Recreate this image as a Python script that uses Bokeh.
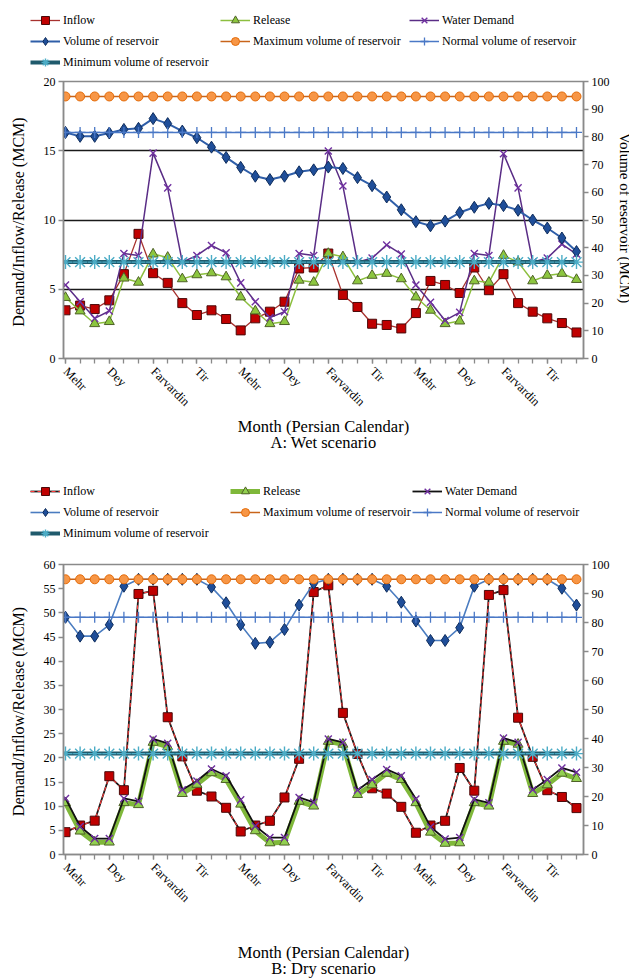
import math
from bokeh.plotting import figure
from bokeh.models import (Range1d, LinearAxis, FixedTicker, Legend, LegendItem,
                          ColumnDataSource)
from bokeh.layouts import column, row
from bokeh.embed import file_html
from bokeh.resources import INLINE

# ---------------- data ----------------
months = list(range(1, 37))
tick_months = [1, 4, 7, 10, 13, 16, 19, 22, 25, 28, 31, 34]
tick_labels = ["Mehr", "Dey", "Farvardin", "Tir",
               "Mehr", "Dey", "Farvardin", "Tir",
               "Mehr", "Dey", "Farvardin", "Tir"]

# A: Wet scenario (MCM)
wet_inflow = [3.48, 3.82, 3.57, 4.2, 6.09, 9.0, 6.16, 5.46, 4.0, 3.14, 3.48, 2.85,
              2.03, 2.9, 3.38, 4.1, 6.5, 6.57, 7.58, 4.59, 3.72, 2.51, 2.42, 2.17,
              3.28, 5.6, 5.31, 4.73, 6.57, 4.93, 6.09, 4.0, 3.38, 2.9, 2.56, 1.88]
wet_release = [4.4, 3.43, 2.51, 2.66, 5.8, 5.5, 7.54, 7.3, 5.75, 6.04, 6.18, 5.89,
               4.44, 3.43, 2.51, 2.66, 5.65, 5.5, 7.58, 7.34, 5.6, 6.0, 6.14, 5.75,
               4.44, 3.48, 2.51, 2.7, 5.6, 5.5, 7.44, 6.96, 5.6, 6.0, 6.14, 5.7]
wet_demand = [5.31, 4.1, 2.9, 3.43, 7.58, 7.44, 14.83, 12.32, 6.96, 7.44, 8.16, 7.63,
              5.46, 4.1, 2.95, 3.38, 7.58, 7.44, 14.98, 12.46, 6.96, 7.25, 8.2, 7.54,
              5.31, 4.06, 2.75, 3.33, 7.58, 7.44, 14.78, 12.32, 6.96, 7.25, 8.26, 7.54]
wet_volume = [81.6, 80.2, 80.2, 81.4, 82.7, 83.1, 86.6, 84.8, 82.1, 79.7, 76.3, 72.6,
              69.0, 65.8, 64.6, 65.8, 67.4, 68.1, 69.1, 68.6, 65.3, 62.4, 58.3, 53.7,
              49.4, 47.9, 49.6, 52.7, 54.6, 56.0, 55.2, 53.5, 50.0, 47.1, 43.5, 38.6]
wet_max_volume = 94.6
wet_normal_volume = 81.6
wet_min_volume = 34.8

# B: Dry scenario (MCM)
dry_inflow = [4.62, 6.0, 7.0, 16.2, 13.3, 53.9, 54.55, 28.4, 20.3, 13.2, 12.0, 9.66,
              4.76, 6.0, 6.97, 11.8, 19.8, 54.3, 55.7, 29.3, 20.8, 13.7, 12.6, 9.86,
              4.5, 6.0, 6.97, 17.9, 13.2, 53.7, 54.7, 28.3, 20.2, 13.3, 11.9, 9.6]
dry_release = [10.7, 4.83, 2.55, 2.55, 10.7, 10.3, 23.2, 22.3, 12.6, 14.5, 16.9, 15.5,
               10.4, 4.9, 2.4, 2.55, 11.0, 10.0, 23.4, 22.8, 12.4, 14.4, 16.8, 15.5,
               10.7, 4.6, 2.3, 2.4, 10.7, 10.0, 23.4, 22.8, 12.6, 14.4, 16.8, 15.7]
dry_demand = [11.6, 5.8, 3.3, 3.3, 11.6, 11.0, 23.9, 23.0, 13.4, 15.2, 17.7, 16.3,
              11.3, 5.9, 3.5, 3.5, 11.8, 10.8, 23.9, 23.2, 13.3, 15.5, 17.6, 16.3,
              11.5, 5.7, 3.2, 3.5, 11.4, 10.7, 24.1, 23.2, 13.4, 15.5, 17.9, 17.0]
dry_volume = [81.8, 75.3, 75.3, 79.2, 92.5, 94.9, 94.9, 94.9, 94.9, 94.9, 92.2, 86.8,
              79.2, 72.8, 73.2, 77.6, 86.0, 93.5, 94.9, 94.9, 94.9, 94.9, 92.5, 87.0,
              80.5, 73.8, 73.8, 78.2, 92.5, 94.9, 94.9, 94.9, 94.9, 94.9, 91.8, 86.0]
dry_max_volume = 94.9
dry_normal_volume = 81.8
dry_min_volume = 34.8

FONT = "Liberation Serif"
AXIS_GREY = "#8a8a8a"
W = 629


def styles(dry):
    """Visual style of every series (line layers + marker)."""
    s = {}
    if dry:
        s["inflow"] = ([dict(line_color="#1a1a1a", line_width=1.8),
                        dict(line_color="#ff3b3b", line_width=1.1, line_dash="4 3")],
                       dict(marker="square", size=9, fill_color="#c00000",
                            line_color="#4a0a0a", line_width=1))
        s["release"] = ([dict(line_color="#7fb83a", line_width=5)],
                        dict(marker="triangle", size=10, fill_color="#92d050",
                             line_color="#4f6228", line_width=1))
        s["demand"] = ([dict(line_color="#111111", line_width=1.8)],
                       dict(marker="x", size=10, line_color="#7030a0", line_width=1.4))
        vol_line = dict(line_color="#4a7cc0", line_width=1.6)
    else:
        s["inflow"] = ([dict(line_color="#a8322f", line_width=1.3)],
                       dict(marker="square", size=9, fill_color="#c00000",
                            line_color="#4a0a0a", line_width=1))
        s["release"] = ([dict(line_color="#8cbf3f", line_width=1.5)],
                        dict(marker="triangle", size=10, fill_color="#8cc63f",
                             line_color="#4f6228", line_width=1))
        s["demand"] = ([dict(line_color="#5a2d86", line_width=1.5)],
                       dict(marker="x", size=10, line_color="#7030a0", line_width=1.4))
        vol_line = dict(line_color="#2f5ea8", line_width=2)
    s["volume"] = ([vol_line], dict(marker="diamond", size=12, fill_color="#1f4e99",
                                    line_color="#0f2d5c", line_width=1))
    s["vmax"] = ([dict(line_color="#c8641a", line_width=1.5)],
                 dict(marker="circle", size=9, fill_color="#f79646",
                      line_color="#e46c0a", line_width=1))
    s["vnormal"] = ([dict(line_color="#4a78c6", line_width=1.5)],
                    dict(marker="cross", size=11, line_color="#4a78c6", line_width=1.3))
    s["vmin"] = ([dict(line_color="#1f5a6c", line_width=4)],
                 dict(marker="asterisk", size=14, line_color="#4bacc6", line_width=1.4))
    return s


LEGEND_LABELS = {"inflow": "Inflow", "release": "Release", "demand": "Water Demand",
                 "volume": "Volume of reservoir", "vmax": "Maximum volume of reservoir",
                 "vnormal": "Normal volume of reservoir",
                 "vmin": "Minimum volume of reservoir"}
LEGEND_COLUMNS = [["inflow", "volume", "vmin"], ["release", "vmax"], ["demand", "vnormal"]]


def make_source(data, vmax, vnormal, vmin):
    n = len(months)
    inflow, release, demand, volume = data
    return ColumnDataSource(dict(
        m=months, inflow=inflow, release=release, demand=demand, volume=volume,
        vmax=[vmax] * n, vnormal=[vnormal] * n, vmin=[vmin] * n))


def style_axis(ax):
    ax.axis_line_color = AXIS_GREY
    ax.axis_line_width = 1.5
    ax.major_tick_line_color = AXIS_GREY
    ax.minor_tick_line_color = AXIS_GREY
    ax.major_tick_line_width = 1.3
    ax.minor_tick_line_width = 1.3
    ax.major_tick_out = 5
    ax.major_tick_in = 0
    ax.minor_tick_out = 0
    ax.minor_tick_in = 0
    ax.major_label_text_font = FONT
    ax.major_label_text_font_size = "12px"
    ax.major_label_text_color = "black"
    ax.major_label_standoff = 3
    ax.axis_label_text_font = FONT
    ax.axis_label_text_font_style = "normal"
    ax.axis_label_text_color = "black"


def legend_fig(src, dry, height, cols_x, row_top):
    # legend-only strip; its view range holds none of the data, so only the
    # legend swatches of these renderers are visible
    lf = figure(width=W, height=height, min_border_left=0, min_border_right=0,
                min_border_top=0, min_border_bottom=0,
                x_axis_location=None, y_axis_location=None,
                x_range=Range1d(-3, -2), y_range=Range1d(-3, -2),
                output_backend="svg", toolbar_location=None, tools="")
    lf.grid.visible = False
    lf.outline_line_color = None
    lf.background_fill_color = "white"
    lf.border_fill_color = "white"
    st = styles(dry)
    for keys, cx in zip(LEGEND_COLUMNS, cols_x):
        items = []
        for k in keys:
            lines, mk = st[k]
            rs = [lf.line("m", k, source=src, **ls) for ls in lines]
            rs.append(lf.scatter("m", k, source=src, **mk))
            items.append(LegendItem(label=LEGEND_LABELS[k], renderers=rs))
        leg_h = 20 * len(keys) + (len(keys) - 1)
        vy = height - row_top - leg_h
        leg = Legend(items=items, location=(cx, vy), padding=0, margin=0, spacing=1,
                     glyph_width=30, glyph_height=20, label_height=20,
                     label_standoff=3, border_line_alpha=0, background_fill_alpha=0,
                     label_text_font=FONT, label_text_font_size="12px",
                     label_text_color="black")
        lf.add_layout(leg)
    return lf


def build(src, ymax, ystep, grid_ticks, frame_h, bottom, right_title, xtitle,
          xtitle_standoff, dry):
    p = figure(frame_width=520, frame_height=frame_h,
               min_border_left=63, min_border_right=46,
               min_border_top=8, min_border_bottom=bottom,
               x_range=Range1d(0.863, 36.48), y_range=Range1d(0, ymax),
               output_backend="svg", toolbar_location=None, tools="")
    p.extra_y_ranges = {"vol": Range1d(0, 100)}
    p.background_fill_color = "white"
    p.border_fill_color = "white"
    p.outline_line_color = AXIS_GREY
    p.outline_line_width = 1.5
    p.xgrid.visible = False
    if grid_ticks:
        p.ygrid.ticker = FixedTicker(ticks=grid_ticks)
        p.ygrid.grid_line_color = "#1a1a1a"
        p.ygrid.grid_line_width = 1.6
    else:
        p.ygrid.visible = False

    xa = p.xaxis[0]
    xa.ticker = FixedTicker(ticks=tick_months, minor_ticks=months)
    xa.major_label_overrides = {m: lab for m, lab in zip(tick_months, tick_labels)}
    style_axis(xa)
    xa.minor_tick_out = 5
    xa.major_label_orientation = -math.pi / 4
    xa.major_label_text_font_size = "12.5px"
    xa.major_label_standoff = 6
    xa.axis_label = xtitle
    xa.axis_label_text_font_size = "16.5px"
    xa.axis_label_text_line_height = 0.88
    xa.axis_label_standoff = xtitle_standoff

    ya = p.yaxis[0]
    ya.ticker = FixedTicker(ticks=list(range(0, ymax + 1, ystep)))
    style_axis(ya)
    ya.axis_label = "Demand/Inflow/Release  (MCM)"
    ya.axis_label_text_font_size = "16px"
    ya.axis_label_standoff = 14

    ra = LinearAxis(y_range_name="vol", ticker=FixedTicker(ticks=list(range(0, 101, 10))))
    style_axis(ra)
    if right_title:
        ra.axis_label = right_title
        ra.axis_label_text_font_size = "15px"
        ra.axis_label_standoff = 4
    p.add_layout(ra, "right")

    st = styles(dry)
    for key in ["inflow", "release", "demand"]:
        lines, mk = st[key]
        for ls in lines:
            p.line("m", key, source=src, **ls)
        p.scatter("m", key, source=src, **mk)
    for key in ["volume", "vmax", "vnormal", "vmin"]:
        lines, mk = st[key]
        for ls in lines:
            p.line("m", key, source=src, y_range_name="vol", **ls)
        p.scatter("m", key, source=src, y_range_name="vol", **mk)
    return p


srcA = make_source((wet_inflow, wet_release, wet_demand, wet_volume),
                   wet_max_volume, wet_normal_volume, wet_min_volume)
srcB = make_source((dry_inflow, dry_release, dry_demand, dry_volume),
                   dry_max_volume, dry_normal_volume, dry_min_volume)

legA = legend_fig(srcA, False, 73, [30, 220, 409], 10)
pA = build(srcA, ymax=20, ystep=5, grid_ticks=[5, 10, 15], frame_h=277, bottom=94,
           right_title="Volume  of reservoir (MCM)",
           xtitle="Month (Persian Calendar)\nA: Wet scenario", xtitle_standoff=0,
           dry=False)
legB = legend_fig(srcB, True, 101, [30, 230, 412], 26)
pB = build(srcB, ymax=60, ystep=5, grid_ticks=None, frame_h=290, bottom=125,
           right_title=None,
           xtitle="Month (Persian Calendar)\nB: Dry scenario", xtitle_standoff=30,
           dry=True)

layout = column(row(legA), pA, row(legB), pB, spacing=0)
open("out.html", "w").write(file_html(layout, INLINE))
